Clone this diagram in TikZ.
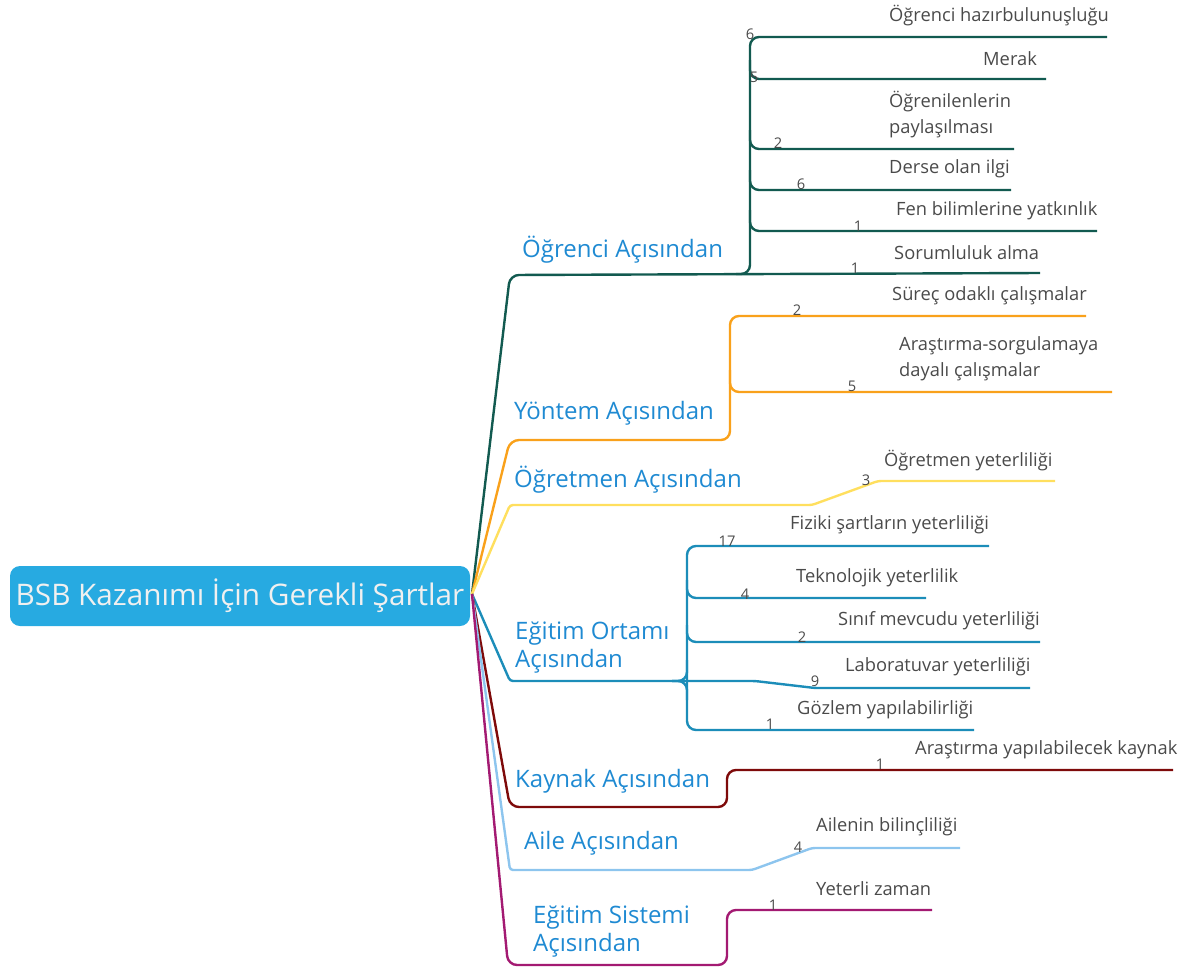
\documentclass[tikz,border=0pt]{standalone}
\usepackage{fontspec}
\setmainfont{Open Sans}
\definecolor{rootblue}{HTML}{27AAE1}
\definecolor{catblue}{HTML}{1F8AD2}
\definecolor{leafgrey}{HTML}{4A4A4A}
\definecolor{cA}{HTML}{125A50}
\definecolor{cB}{HTML}{F9A11B}
\definecolor{cC}{HTML}{FFDF5E}
\definecolor{cD}{HTML}{1C8DB9}
\definecolor{cE}{HTML}{7E0A0A}
\definecolor{cF}{HTML}{8DC5EE}
\definecolor{cG}{HTML}{A31A72}
\begin{document}
\begin{tikzpicture}[x=1pt,y=-1pt,
  leaf/.style={anchor=west,inner sep=0pt,text=leafgrey,font=\fontsize{18.3}{26}\selectfont,align=left},
  cat/.style={anchor=west,inner sep=0pt,text=catblue,font=\fontsize{24}{28}\selectfont,align=left},
  num/.style={inner sep=0pt,text=leafgrey,font=\fontsize{14.7}{15}\selectfont},
  br/.style={line width=2.4pt,rounded corners=9pt},
  lf/.style={line width=2.4pt,rounded corners=9pt}]
\useasboundingbox (0,0) rectangle (1193,967);

% root
\node[fill=rootblue,rounded corners=10pt,minimum width=460pt,minimum height=60pt,inner sep=0pt,
  text=white!94!black,font=\fontsize{29.7}{32}\selectfont] (root) at (240,596) {BSB Kazanımı İçin Gerekli Şartlar};
\coordinate (hub) at (472,594);

% ---------- 1: Öğrenci
\coordinate (c1) at (510,275);
\coordinate (c1j) at (736,274);
\coordinate (l11) at (1107,37);
\coordinate (l12) at (1046,79);
\coordinate (l13) at (1014,149);
\coordinate (l14) at (1011,190);
\coordinate (l15) at (1097,231);
\coordinate (l16) at (1040,273);
\draw[br,cA] (hub) -- (c1) -- (l16);
\draw[lf,cA] (c1j) -| (750,37) -- (l11);
\draw[lf,cA] (750,60) |- (l12);
\draw[lf,cA] (750,130) |- (l13);
\draw[lf,cA] (750,170) |- (l14);
\draw[lf,cA] (750,210) |- (l15);
\node[cat] (k1) at (522,250) {Öğrenci Açısından};
\node[leaf] (t11) at (889,16) {Öğrenci hazırbulunuşluğu};
\node[leaf] (t12) at (983,59) {Merak};
\node[leaf] (t13) at (889,115) {Öğrenilenlerin\\paylaşılması};
\node[leaf] (t14) at (889,169) {Derse olan ilgi};
\node[leaf] (t15) at (896,211) {Fen bilimlerine yatkınlık};
\node[leaf] (t16) at (894,253) {Sorumluluk alma};
\node[num] (n11) at (750,34) {6};
\node[num] (n12) at (754,77) {5};
\node[num] (n13) at (778,143) {2};
\node[num] (n14) at (801,184) {6};
\node[num] (n15) at (858,226) {1};
\node[num] (n16) at (855,268) {1};

% ---------- 2: Yöntem
\coordinate (c2) at (510,440);
\coordinate (l21) at (1086,316);
\coordinate (l22) at (1112,392);
\draw[br,cB] (hub) -- (c2) -| (730,316) -- (l21);
\draw[lf,cB] (730,370) |- (l22);
\node[cat] (k2) at (514,413) {Yöntem Açısından};
\node[leaf] (t21) at (892,296) {Süreç odaklı çalışmalar};
\node[leaf] (t22) at (899,359) {Araştırma-sorgulamaya\\dayalı çalışmalar};
\node[num] (n21) at (797,310) {2};
\node[num] (n22) at (852,386) {5};

% ---------- 3: Öğretmen
\coordinate (c3) at (510,505);
\coordinate (l31) at (1055,481);
\draw[br,cC,rounded corners=3pt] (hub) -- (c3) -- (812,505) -- (878,481) -- (l31);
\node[cat] (k3) at (514,480) {Öğretmen Açısından};
\node[leaf] (t31) at (884,461) {Öğretmen yeterliliği};
\node[num] (n31) at (866,480) {3};

% ---------- 4: Eğitim Ortamı
\coordinate (c4) at (510,681);
\coordinate (l41) at (989,546);
\coordinate (l42) at (926,598);
\coordinate (l43) at (1040,642);
\coordinate (l44) at (1030,688);
\coordinate (l45) at (974,730);
\draw[br,cD,rounded corners=3pt] (hub) -- (c4) -- (755,681) -- (815,688) -- (l44);
\draw[lf,cD] (l41) -- (687,546) -- (687,730) -- (l45);
\draw[lf,cD] (672,681) -| (687,660);
\draw[lf,cD] (672,681) -| (687,700);
\draw[lf,cD] (687,580) |- (l42);
\draw[lf,cD] (687,625) |- (l43);
\node[cat] (k4) at (515,648) {Eğitim Ortamı\\Açısından};
\node[leaf] (t41) at (790,525) {Fiziki şartların yeterliliği};
\node[leaf] (t42) at (796,578) {Teknolojik yeterlilik};
\node[leaf] (t43) at (838,621) {Sınıf mevcudu yeterliliği};
\node[leaf] (t44) at (845,667) {Laboratuvar yeterliliği};
\node[leaf] (t45) at (797,710) {Gözlem yapılabilirliği};
\node[num] (n41) at (727,541) {17};
\node[num] (n42) at (745,594) {4};
\node[num] (n43) at (802,637) {2};
\node[num] (n44) at (815,681) {9};
\node[num] (n45) at (770,724) {1};

% ---------- 5: Kaynak
\coordinate (c5) at (510,807);
\coordinate (l51) at (1173,770);
\draw[br,cE] (hub) -- (c5) -| (727,770) -- (l51);
\node[cat] (k5) at (515,781) {Kaynak Açısından};
\node[leaf] (t51) at (915,750) {Araştırma yapılabilecek kaynak};
\node[num] (n51) at (880,764) {1};

% ---------- 6: Aile
\coordinate (c6) at (510,870);
\coordinate (l61) at (960,848);
\draw[br,cF,rounded corners=3pt] (hub) -- (c6) -- (752,870) -- (812,848) -- (l61);
\node[cat] (k6) at (524,843) {Aile Açısından};
\node[leaf] (t61) at (816,827) {Ailenin bilinçliliği};
\node[num] (n61) at (798,847) {4};

% ---------- 7: Eğitim Sistemi
\coordinate (c7) at (508,965);
\coordinate (l71) at (932,910);
\draw[br,cG] (hub) -- (c7) -| (727,910) -- (l71);
\node[cat] (k7) at (533,932) {Eğitim Sistemi\\Açısından};
\node[leaf] (t71) at (816,889) {Yeterli zaman};
\node[num] (n71) at (773,905) {1};

\end{tikzpicture}
\end{document}
